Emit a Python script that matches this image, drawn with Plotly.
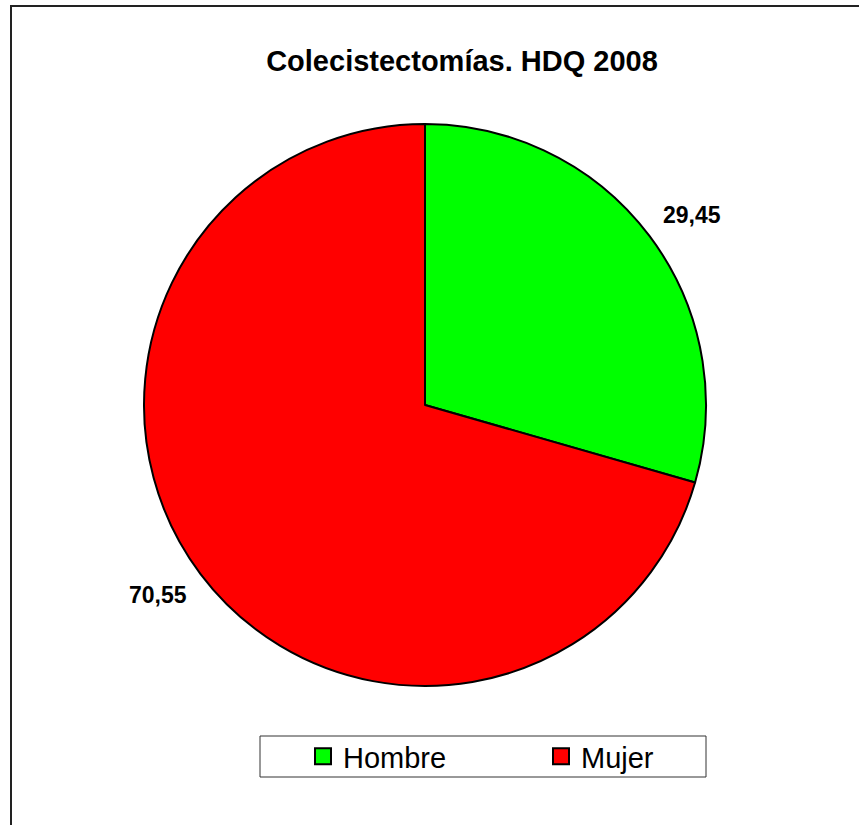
import math
import plotly.graph_objects as go

categories = ["Hombre", "Mujer"]
values = [29.45, 70.55]
value_labels = ["29,45", "70,55"]
colors = ["#00FF00", "#FF0000"]

W, H = 859, 825
FONT = "Liberation Sans, Arial, sans-serif"

# pie geometry in pixels
cx, cy, R = 425, 405, 281

fig = go.Figure()
fig.add_trace(go.Pie(
    labels=categories,
    values=values,
    sort=False,
    direction="clockwise",
    rotation=0,
    marker=dict(colors=colors, line=dict(color="black", width=2)),
    textinfo="none",
    hoverinfo="label+value",
    domain=dict(x=[(cx - R) / W, (cx + R) / W], y=[1 - (cy + R) / H, 1 - (cy - R) / H]),
    showlegend=False,
))

# legend entries with larger square swatches
for cat, col in zip(categories, colors):
    fig.add_trace(go.Scatter(
        x=[None], y=[None], mode="markers", name=cat,
        marker=dict(symbol="square", size=16, color=col,
                    line=dict(color="black", width=2)),
        showlegend=True, hoverinfo="skip",
    ))

# data labels placed outside slices, angle derived from the data
total = sum(values)
annotations = []
cum = 0
for v, lab in zip(values, value_labels):
    mid = (cum + v / 2) / total * 2 * math.pi + math.radians(1.6)
    cum += v
    r = R * 1.167
    px = cx + r * math.sin(mid)
    py = cy - r * math.cos(mid)
    annotations.append(dict(
        x=px / W, y=1 - py / H, xref="paper", yref="paper",
        text=f"<b>{lab}</b>", showarrow=False,
        font=dict(family=FONT, size=23, color="black"),
        xanchor="center", yanchor="middle",
    ))

fig.update_layout(
    width=W, height=H,
    margin=dict(l=0, r=0, t=0, b=0),
    paper_bgcolor="white",
    plot_bgcolor="white",
    xaxis=dict(visible=False),
    yaxis=dict(visible=False),
    title=dict(
        text="<b>Colecistectomías. HDQ 2008</b>",
        x=462 / W, xanchor="center",
        y=1 - 61 / H, yanchor="middle",
        font=dict(family=FONT, size=29, color="black"),
    ),
    legend=dict(
        orientation="h",
        x=303 / W, xanchor="left",
        y=1 - 756.5 / H, yanchor="middle",
        font=dict(family=FONT, size=29, color="black"),
        bgcolor="rgba(0,0,0,0)",
        borderwidth=0,
        entrywidth=193,
        itemclick=False,
    ),
    annotations=annotations,
    shapes=[
        # outer frame
        dict(type="rect", xref="paper", yref="paper",
             x0=11 / W, x1=1.02, y0=-0.02, y1=1 - 6 / H,
             line=dict(color="#222222", width=2)),
        # legend box
        dict(type="rect", xref="paper", yref="paper",
             x0=260 / W, x1=706 / W, y0=1 - 777 / H, y1=1 - 736 / H,
             line=dict(color="#333333", width=1)),
    ],
)

fig.write_html(
    "out.html",
    config={"displayModeBar": False},
    post_script="document.body.style.margin='0';document.body.style.overflow='hidden';",
)
